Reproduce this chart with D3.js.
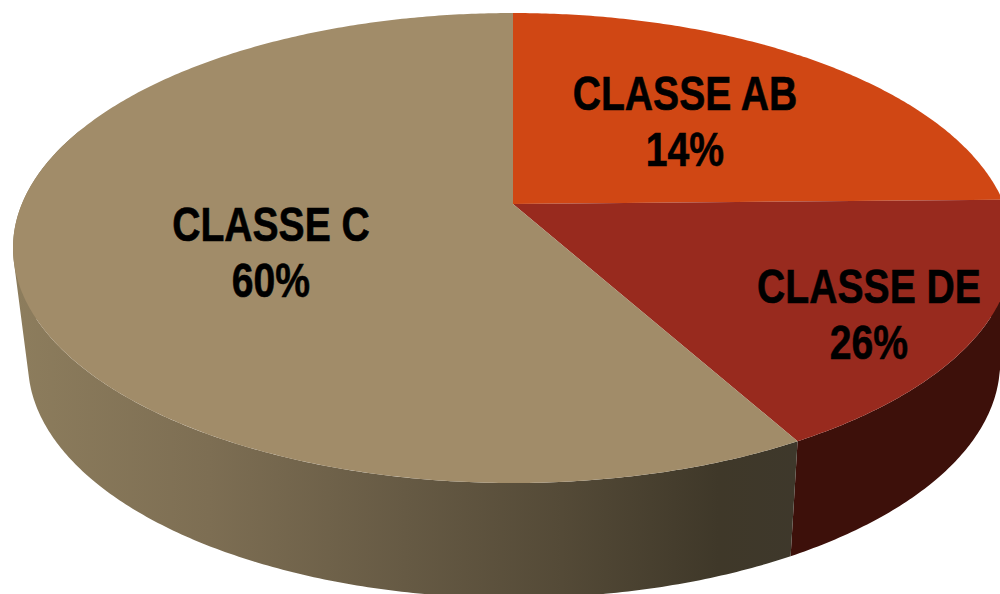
<!DOCTYPE html>
<html>
<head>
<meta charset="utf-8">
<script src="https://cdn.jsdelivr.net/npm/d3@7"></script>
<style>
html, body { margin: 0; padding: 0; background: #fff; overflow: hidden; }
svg { display: block; }
text { font-family: "Liberation Sans", Arial, sans-serif; font-weight: 700; font-size: 48px; fill: #000; stroke: #000; stroke-width: 0.6px; }
</style>
</head>
<body>
<div class="chart1"></div>
<script>
// what is written on the chart
var categories = ["CLASSE AB", "CLASSE DE", "CLASSE C"];
var percentLabels = ["14%", "26%", "60%"];
// share of the disc each slice takes in the picture (not the same as the printed labels)
var drawnShares = [24.7, 17.25, 58.05];

var topColors = ["#d04714", "#982a1e", "#a18c69"];
var sideColors = [null, "#3d100a", "url(#sideC)"];

var W = 1000, H = 594;
var top3d = {cx: 513, cy: 248, rx: 500, ry: 235, apexY: 204};
var bottom3d = {cx: 514, cy: 363, rx: 486, ry: 235, apexY: 319};

// label centre x and first baseline
var labelSpots = [[685, 110], [869, 303], [271, 241]];
var narrow = 0.815; // the original face is a narrow bold, not installed here

var svg = d3.select(".chart1").append("svg").attr("width", W).attr("height", H);

var grad = svg.append("defs").append("linearGradient")
  .attr("id", "sideC").attr("gradientUnits", "userSpaceOnUse")
  .attr("x1", 13).attr("x2", 797).attr("y1", 0).attr("y2", 0);
[[0, "#8d7d5d"], [0.25, "#7d6e53"], [0.5, "#665a44"], [0.7, "#544a37"], [0.9, "#3f3829"], [1, "#3e382b"]].forEach(function (s) {
  grad.append("stop").attr("offset", s[0]).attr("stop-color", s[1]);
});

// circle seen in perspective: the centre of the pie is not the centre of the ellipse
function projector(e) {
  var lower = e.cy + e.ry - e.apexY, upper = e.apexY - (e.cy - e.ry);
  var k = (lower - upper) / (lower + upper);
  var b = lower * (1 - k);
  var a = e.rx * Math.sqrt(1 - k * k);
  return function (t) {
    var u = Math.sin(t), v = -Math.cos(t), w = 1 - k * v;
    return [e.cx + a * u / w, e.apexY + b * v / w];
  };
}
var pTop = projector(top3d), pBottom = projector(bottom3d);

var slices = d3.pie().sort(null)(drawnShares);
var line = d3.line();

function samples(a0, a1) {
  var n = Math.max(2, Math.ceil((a1 - a0) / 0.01));
  return d3.range(n + 1).map(function (i) { return a0 + (a1 - a0) * i / n; });
}

// side wall: thin quads between top rim and bottom rim, all in one path
function sidePath(a0, a1) {
  var ts = samples(a0, a1), d = "";
  for (var i = 0; i < ts.length - 1; i++) {
    var q = [pTop(ts[i]), pTop(ts[i + 1]), pBottom(ts[i + 1]), pBottom(ts[i])];
    // same winding for every quad or the fold at the silhouette cancels out
    if (d3.polygonArea(q) < 0) q.reverse();
    d += line(q) + "Z";
  }
  return d;
}

// only the front part of the rim shows
var frontEnd = 1.5 * Math.PI + 0.35;
slices.forEach(function (s, i) {
  if (!sideColors[i]) return;
  svg.append("path")
    .attr("d", sidePath(s.startAngle, Math.min(s.endAngle, frontEnd)))
    .attr("fill", sideColors[i]);
});

slices.forEach(function (s, i) {
  var pts = [[top3d.cx, top3d.apexY]].concat(samples(s.startAngle, s.endAngle).map(pTop));
  svg.append("path").attr("d", line(pts) + "Z").attr("fill", topColors[i]);
});

categories.forEach(function (c, i) {
  var g = svg.append("g")
    .attr("transform", "translate(" + labelSpots[i][0] + "," + labelSpots[i][1] + ") scale(" + narrow + ",1)");
  g.append("text").attr("text-anchor", "middle").text(c);
  g.append("text").attr("text-anchor", "middle").attr("y", 56).text(percentLabels[i]);
});
</script>
</body>
</html>
